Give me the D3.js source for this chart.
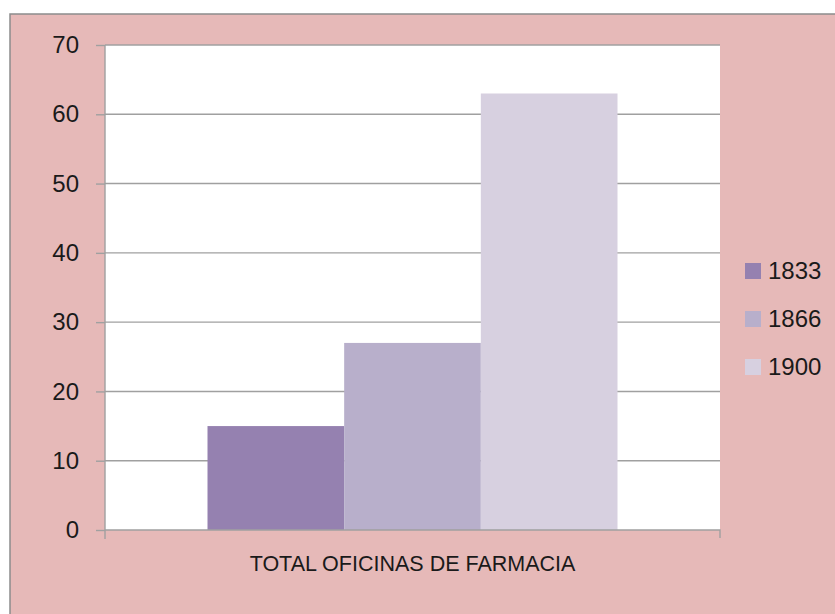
<!DOCTYPE html>
<html>
<head>
<meta charset="utf-8">
<script src="https://d3js.org/d3.v7.min.js"></script>
<style>
  body { margin: 0; background: #fff; }
  text { font-family: "Liberation Sans", Arial, sans-serif; fill: #1a1a1a; }
</style>
</head>
<body>
<script>
// Data
const categories = ['TOTAL OFICINAS DE FARMACIA'];
const years = ['1833', '1866', '1900'];
const values = [15, 27, 63];
const colors = ['#9581B0', '#B8AFCB', '#D7D0E0'];
const yTicks = [0, 10, 20, 30, 40, 50, 60, 70];

const width = 835, height = 614;
const plot = { left: 105, top: 45, right: 720, bottom: 530 };

const svg = d3.select('body')
    .append('svg')
    .attr('width', width)
    .attr('height', height);

// Chart background + border (only top/left visible)
svg.append('rect')
    .attr('x', 10).attr('y', 14)
    .attr('width', width).attr('height', height)
    .attr('fill', '#E6B9B8')
    .attr('stroke', '#8c8c8c')
    .attr('stroke-width', 1.5);

// Plot area
svg.append('rect')
    .attr('x', plot.left).attr('y', plot.top)
    .attr('width', plot.right - plot.left)
    .attr('height', plot.bottom - plot.top)
    .attr('fill', '#fff');

const y = d3.scaleLinear().domain([0, 70]).range([plot.bottom, plot.top]);
const x0 = d3.scaleBand().domain(categories).range([plot.left, plot.right]).padding(0.2);
const x1 = d3.scaleBand().domain(years).range([0, x0.bandwidth()]).padding(0);

// Gridlines
svg.append('g')
    .selectAll('line')
    .data(yTicks.filter(d => d > 0))
    .enter()
    .append('line')
    .attr('x1', plot.left).attr('x2', plot.right)
    .attr('y1', d => y(d)).attr('y2', d => y(d))
    .attr('stroke', '#a0a0a0')
    .attr('stroke-width', 1.4);

// Bars
svg.append('g')
    .selectAll('rect')
    .data(years.map((yr, i) => ({ cat: categories[0], yr, v: values[i], c: colors[i] })))
    .enter()
    .append('rect')
    .attr('x', d => x0(d.cat) + x1(d.yr))
    .attr('y', d => y(d.v))
    .attr('width', x1.bandwidth())
    .attr('height', d => y(0) - y(d.v))
    .attr('fill', d => d.c);

// Y axis
const yAxis = svg.append('g')
    .attr('transform', `translate(${plot.left},0)`)
    .call(d3.axisLeft(y).tickValues(yTicks).tickSize(9).tickPadding(17));
yAxis.selectAll('line, path').attr('stroke', '#a0a0a0').attr('stroke-width', 1.4);
yAxis.select('.domain').attr('d', `M0,${plot.top}V${plot.bottom + 9}`);
yAxis.selectAll('text').style('font-size', '24px').attr('fill', '#1a1a1a');

// X axis
const xAxis = svg.append('g')
    .attr('transform', `translate(0,${plot.bottom})`)
    .call(d3.axisBottom(x0).tickSize(0).tickPadding(26));
xAxis.select('.domain').attr('stroke', '#a0a0a0').attr('stroke-width', 1.4)
    .attr('d', `M${plot.left},0H${plot.right}V8`);
xAxis.selectAll('text').style('font-size', '21.5px').attr('fill', '#1a1a1a');

// Legend
const legend = svg.append('g')
    .selectAll('g')
    .data(years)
    .enter()
    .append('g')
    .attr('transform', (d, i) => `translate(745,${271 + i * 48})`);
legend.append('rect')
    .attr('x', 0).attr('y', -8)
    .attr('width', 16).attr('height', 16)
    .attr('fill', (d, i) => colors[i]);
legend.append('text')
    .attr('x', 23).attr('y', 0)
    .attr('dy', '0.35em')
    .style('font-size', '24px')
    .text(d => d);
</script>
</body>
</html>
